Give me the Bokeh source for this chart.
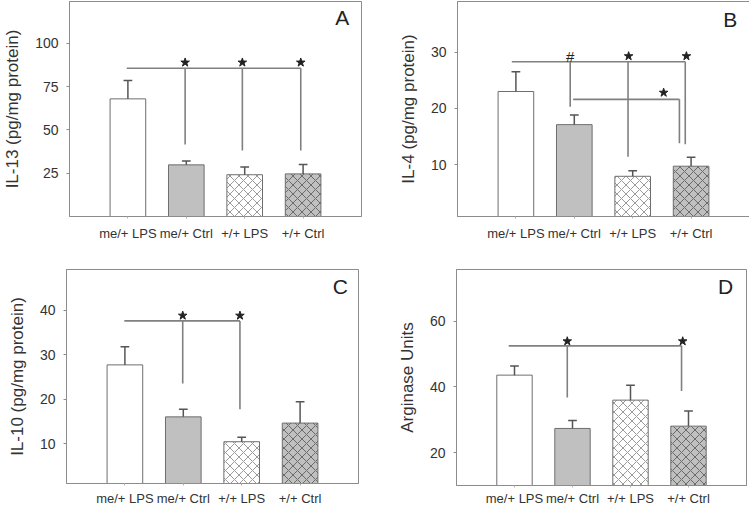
from bokeh.plotting import figure
from bokeh.layouts import row, column
from bokeh.models import FixedTicker, ColumnDataSource, Range1d, Label
from bokeh.embed import file_html
from bokeh.resources import INLINE

# ---------------- data ----------------
categories = ["me/+ LPS", "me/+ Ctrl", "+/+ LPS", "+/+ Ctrl"]

il13_mean = [67.9, 29.8, 24.1, 24.6]
il13_sem = [10.6, 2.3, 4.4, 5.4]
il4_mean = [23.0, 17.1, 7.9, 9.7]
il4_sem = [3.5, 1.7, 1.0, 1.6]
il10_mean = [27.7, 16.0, 10.4, 14.6]
il10_sem = [4.1, 1.7, 1.0, 4.8]
arg_mean = [43.6, 27.4, 36.0, 28.1]
arg_sem = [2.8, 2.4, 4.5, 4.6]

il13_ticks = [25, 50, 75, 100]
il4_ticks = [10, 20, 30]
il10_ticks = [10, 20, 30, 40]
arg_ticks = [20, 40, 60]

# significance brackets: horizontal (x0, x1, y), vertical (x, ytop, ybottom), marks (x, y, symbol)
A_h = [(0.98, 3.96, 85.6)]
A_v = [(1.98, 85.6, 41.6), (2.96, 85.6, 38.1), (3.96, 85.6, 38.1)]
A_m = [(1.98, 88.9, "*"), (2.96, 88.9, "*"), (3.96, 88.9, "*")]

B_h = [(0.93, 3.90, 28.3), (1.98, 3.80, 21.6)]
B_v = [(1.93, 28.3, 20.3), (2.92, 28.3, 11.4), (3.90, 28.3, 13.6), (3.80, 21.6, 13.8)]
B_m = [(1.93, 29.3, "#"), (2.93, 29.3, "*"), (3.92, 29.3, "*"), (3.53, 22.8, "*")]

C_h = [(0.99, 2.97, 37.6)]
C_v = [(1.99, 37.6, 23.5), (2.97, 37.6, 17.7)]
C_m = [(1.99, 38.8, "*"), (2.97, 38.8, "*")]

D_h = [(0.90, 3.88, 52.5)]
D_v = [(1.91, 52.5, 36.8), (3.88, 52.5, 38.8)]
D_m = [(1.91, 53.9, "*"), (3.90, 53.9, "*")]

# ---------------- style ----------------
FONT = "Liberation Sans"
TXT = "#333333"
AX = "#8c8c8c"
bar_fill = ["white", "#c0c0c0", "white", "#c0c0c0"]
bar_hatch = [" ", " ", "x", "x"]
bar_hatch_color = ["#888888", "#888888", "#9a9a9a", "#6a6a6a"]


def panel(means, sems, ylabel, yr, yticks, letter, lxy, hl, vl, marks,
          bl, fw, br, bt, fh, bb, s1, s2, xs):
    xs_pos = [i + 1 for i in range(len(categories))]
    p = figure(frame_width=fw, frame_height=fh,
               x_range=Range1d(0, 5), y_range=Range1d(*yr),
               output_backend="svg", toolbar_location=None, tools="",
               min_border_left=bl, min_border_right=br,
               min_border_top=bt, min_border_bottom=bb)
    p.grid.visible = False
    p.outline_line_color = AX
    p.outline_line_width = 1
    p.background_fill_color = "white"
    p.border_fill_color = "white"

    src = ColumnDataSource(dict(x=xs_pos, top=means, fill=bar_fill,
                                hatch=bar_hatch, hcol=bar_hatch_color))
    p.vbar(x="x", top="top", bottom=yr[0], width=0.61, source=src,
           fill_color="fill", line_color="#6e6e6e", line_width=1,
           hatch_pattern="hatch", hatch_color="hcol", hatch_scale=9,
           hatch_weight=1)

    ups = [m + s for m, s in zip(means, sems)]
    p.segment(x0=xs_pos, y0=means, x1=xs_pos, y1=ups,
              line_color="#555555", line_width=1.5)
    p.segment(x0=[x - 0.075 for x in xs_pos], y0=ups,
              x1=[x + 0.075 for x in xs_pos], y1=ups,
              line_color="#555555", line_width=1.5)

    # significance brackets
    p.segment(x0=[h[0] for h in hl], y0=[h[2] for h in hl],
              x1=[h[1] for h in hl], y1=[h[2] for h in hl],
              line_color="#808080", line_width=1.6)
    p.segment(x0=[v[0] for v in vl], y0=[v[1] for v in vl],
              x1=[v[0] for v in vl], y1=[v[2] for v in vl],
              line_color="#808080", line_width=1.6)
    stars = [m for m in marks if m[2] == "*"]
    if stars:
        p.scatter(x=[m[0] for m in stars], y=[m[1] for m in stars],
                  marker="star", size=9, fill_color="#222222",
                  line_color="#222222")
    for m in marks:
        if m[2] != "*":
            p.add_layout(Label(x=m[0], y=m[1], text=m[2], text_font=FONT,
                               text_font_size="15px", text_color="#222222",
                               text_align="center", text_baseline="middle"))

    p.add_layout(Label(x=lxy[0], y=lxy[1], text=letter, text_font=FONT,
                       text_font_size="21px", text_color="#222222",
                       text_align="center", text_baseline="middle"))

    # x axis
    xa = p.xaxis[0]
    xa.ticker = FixedTicker(ticks=xs_pos)
    xa.major_label_overrides = {x: c for x, c in zip(xs_pos, categories)}
    xa.axis_line_color = AX
    xa.major_tick_line_color = "#b0b0b0"
    xa.major_tick_out = 2
    xa.major_tick_in = 0
    xa.minor_tick_line_color = None
    xa.major_label_standoff = xs
    xa.major_label_text_font = FONT
    xa.major_label_text_font_size = "13px"
    xa.major_label_text_color = TXT

    ya = p.yaxis[0]
    ya.ticker = FixedTicker(ticks=yticks)
    ya.axis_line_color = AX
    ya.major_tick_line_color = AX
    ya.major_tick_out = 3
    ya.major_tick_in = 0
    ya.minor_tick_line_color = None
    ya.major_label_standoff = s1
    ya.major_label_text_font = FONT
    ya.major_label_text_font_size = "14px"
    ya.major_label_text_color = TXT
    ya.axis_label = ylabel
    ya.axis_label_standoff = s2
    ya.axis_label_text_font = FONT
    ya.axis_label_text_font_size = "17px"
    ya.axis_label_text_font_style = "normal"
    ya.axis_label_text_color = TXT
    return p


pA = panel(il13_mean, il13_sem, "IL-13 (pg/mg protein)", (0, 124.1), il13_ticks,
           "A", (4.67, 114.6), A_h, A_v, A_m,
           66, 292, 8, 1, 215, 38, 8, 10, 7)
pB = panel(il4_mean, il4_sem, "IL-4 (pg/mg protein)", (0.74, 39.03), il4_ticks,
           "B", (4.67, 35.9), B_h, B_v, B_m,
           88, 292, 1, 1, 215, 38, 8, 10, 7)
pC = panel(il10_mean, il10_sem, "IL-10 (pg/mg protein)", (1.0, 49.17), il10_ticks,
           "C", (4.69, 45.3), C_h, C_v, C_m,
           66, 292, 8, 15, 214, 23, 8, 10, 5)
pD = panel(arg_mean, arg_sem, "Arginase Units", (10.06, 75.7), arg_ticks,
           "D", (4.64, 70.4), D_h, D_v, D_m,
           90, 290, 1, 15, 216, 21, 8, 10, 3)

layout = column(row(pA, pB), row(pC, pD))
open("out.html", "w").write(file_html(layout, INLINE))
